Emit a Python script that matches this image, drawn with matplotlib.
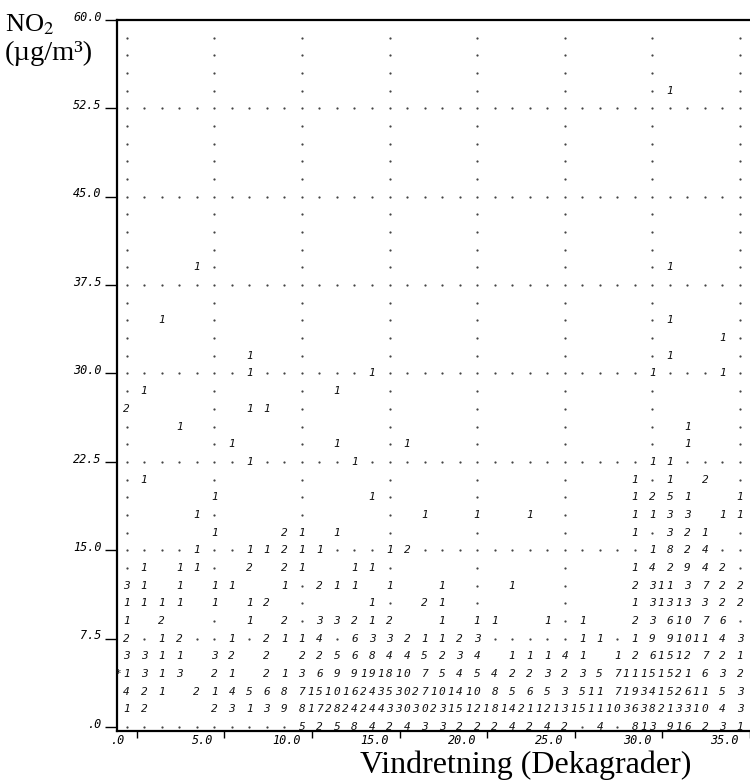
import numpy as np
import matplotlib
matplotlib.use("Agg")
import matplotlib.pyplot as plt

# wind direction classes (dekagrader), NO2 classes in steps of 1.5 ug/m3
directions = list(range(36))
no2_step = 1.5

# counts per NO2 class, one value per wind direction 0..35 (0 = empty cell)
n_00 = [0, 0, 0, 0, 0, 0, 0, 0, 0, 0, 5, 2, 5, 8, 4, 2, 4, 3, 3, 2, 2, 2, 4, 2, 4, 2, 0, 4, 0, 8, 13, 9, 16, 2, 3, 1]
n_01 = [1, 2, 0, 0, 0, 2, 3, 1, 3, 9, 8, 17, 28, 24, 24, 43, 30, 30, 23, 15, 12, 18, 14, 21, 12, 13, 15, 11, 10, 36, 38, 21, 33, 10, 4, 3]
n_02 = [4, 2, 1, 0, 2, 1, 4, 5, 6, 8, 7, 15, 10, 16, 24, 35, 30, 27, 10, 14, 10, 8, 5, 6, 5, 3, 5, 11, 7, 19, 34, 15, 26, 11, 5, 3]
n_03 = [1, 3, 1, 3, 0, 2, 1, 0, 2, 1, 3, 6, 9, 9, 19, 18, 10, 7, 5, 4, 5, 4, 2, 2, 3, 2, 3, 5, 7, 11, 15, 15, 21, 6, 3, 2]
n_04 = [3, 3, 1, 1, 0, 3, 2, 0, 2, 0, 2, 2, 5, 6, 8, 4, 4, 5, 2, 3, 4, 0, 1, 1, 1, 4, 1, 0, 1, 2, 6, 15, 12, 7, 2, 1]
n_05 = [2, 0, 1, 2, 0, 0, 1, 0, 2, 1, 1, 4, 0, 6, 3, 3, 2, 1, 1, 2, 3, 0, 0, 0, 0, 0, 1, 1, 0, 1, 9, 9, 10, 11, 4, 3]
n_06 = [1, 0, 2, 0, 0, 0, 0, 1, 0, 2, 0, 3, 3, 2, 1, 2, 0, 0, 1, 0, 1, 1, 0, 0, 1, 0, 1, 0, 0, 2, 3, 6, 10, 7, 6, 0]
n_07 = [1, 1, 1, 1, 0, 1, 0, 1, 2, 0, 0, 0, 0, 0, 1, 0, 0, 2, 1, 0, 0, 0, 0, 0, 0, 0, 0, 0, 0, 1, 3, 13, 13, 3, 2, 2]
n_08 = [3, 1, 0, 1, 0, 1, 1, 0, 0, 1, 0, 2, 1, 1, 0, 1, 0, 0, 1, 0, 0, 0, 1, 0, 0, 0, 0, 0, 0, 2, 3, 11, 3, 7, 2, 2]
n_09 = [0, 1, 0, 1, 1, 0, 0, 2, 0, 2, 1, 0, 0, 1, 1, 0, 0, 0, 0, 0, 0, 0, 0, 0, 0, 0, 0, 0, 0, 1, 4, 2, 9, 4, 2, 0]
n_10 = [0, 0, 0, 0, 1, 0, 0, 1, 1, 2, 1, 1, 0, 0, 0, 1, 2, 0, 0, 0, 0, 0, 0, 0, 0, 0, 0, 0, 0, 0, 1, 8, 2, 4, 0, 0]
n_11 = [0, 0, 0, 0, 0, 1, 0, 0, 0, 2, 1, 0, 1, 0, 0, 0, 0, 0, 0, 0, 0, 0, 0, 0, 0, 0, 0, 0, 0, 1, 0, 3, 2, 1, 0, 0]
n_12 = [0, 0, 0, 0, 1, 0, 0, 0, 0, 0, 0, 0, 0, 0, 0, 0, 0, 1, 0, 0, 1, 0, 0, 1, 0, 0, 0, 0, 0, 1, 1, 3, 3, 0, 1, 1]
n_13 = [0, 0, 0, 0, 0, 1, 0, 0, 0, 0, 0, 0, 0, 0, 1, 0, 0, 0, 0, 0, 0, 0, 0, 0, 0, 0, 0, 0, 0, 1, 2, 5, 1, 0, 0, 1]
n_14 = [0, 1, 0, 0, 0, 0, 0, 0, 0, 0, 0, 0, 0, 0, 0, 0, 0, 0, 0, 0, 0, 0, 0, 0, 0, 0, 0, 0, 0, 1, 0, 1, 0, 2, 0, 0]
n_15 = [0, 0, 0, 0, 0, 0, 0, 1, 0, 0, 0, 0, 0, 1, 0, 0, 0, 0, 0, 0, 0, 0, 0, 0, 0, 0, 0, 0, 0, 0, 1, 1, 0, 0, 0, 0]
n_16 = [0, 0, 0, 0, 0, 0, 1, 0, 0, 0, 0, 0, 1, 0, 0, 0, 1, 0, 0, 0, 0, 0, 0, 0, 0, 0, 0, 0, 0, 0, 0, 0, 1, 0, 0, 0]
dense_rows = [n_00, n_01, n_02, n_03, n_04, n_05, n_06, n_07, n_08,
              n_09, n_10, n_11, n_12, n_13, n_14, n_15, n_16]

# sparse upper part: NO2 class index, wind direction, count
sparse_row = [17, 17, 18, 18, 18, 19, 19, 20, 20, 20, 20, 21, 21, 22, 23, 23, 26, 26, 36]
sparse_col = [3, 32, 0, 7, 8, 1, 12, 7, 14, 30, 34, 7, 31, 34, 2, 31, 4, 31, 31]
sparse_n = [1, 1, 2, 1, 1, 1, 1, 1, 1, 1, 1, 1, 1, 1, 1, 1, 1, 1, 1]

y_ticks = [0, 7.5, 15, 22.5, 30, 37.5, 45, 52.5, 60]
y_ticklabels = [".0", "7.5", "15.0", "22.5", "30.0", "37.5", "45.0", "52.5", "60.0"]
x_ticks = [0, 5, 10, 15, 20, 25, 30, 35]
x_ticklabels = [".0", "5.0", "10.0", "15.0", "20.0", "25.0", "30.0", "35.0"]

n_rows = 41
counts = np.zeros((n_rows, len(directions)), dtype=int)
for r, row in enumerate(dense_rows):
    counts[r] = row
for r, c, n in zip(sparse_row, sparse_col, sparse_n):
    counts[r, c] = n

plt.rcParams["mathtext.fontset"] = "stix"
MONO = "DejaVu Sans Mono"
SERIF = "Liberation Serif"

fig = plt.figure(figsize=(7.5, 7.81), dpi=100)
ax = fig.add_axes([117 / 750, 50 / 781, 633 / 750, 711 / 781])
ax.set_xlim(-0.55, 35.21)
ax.set_ylim(-0.34, 60)

# dotted reference lines of the printer plot (every 5th row / column)
gx, gy = [], []
for r in range(n_rows - 1):
    for c in directions:
        if (r % 5 == 0 or c % 5 == 0) and counts[r, c] == 0:
            gx.append(c)
            gy.append(r * no2_step)
ax.scatter(gx, gy, s=2.6, color="#444444", marker="o", linewidths=0, zorder=2)

# counts, printed two characters per column, right aligned
for r in range(n_rows):
    for c in directions:
        n = counts[r, c]
        if n == 0:
            continue
        for k, ch in enumerate(reversed(str(n))):
            ax.text(c - 0.5 * k, r * no2_step, ch, ha="center", va="center",
                    fontsize=8, family=MONO, style="italic", color="#111111",
                    zorder=3)

# marker left of the first column
ax.text(-0.5, 3 * no2_step, "*", ha="center", va="center", fontsize=8,
        family=MONO, color="#111111", clip_on=False)

for side in ["top", "left", "bottom"]:
    ax.spines[side].set_linewidth(1.6)
ax.spines["right"].set_visible(False)

ax.set_yticks(y_ticks)
ax.set_yticklabels([])
ax.tick_params(axis="y", length=8.5, width=1.0, direction="out")
for v, lab in zip(y_ticks, y_ticklabels):
    ax.annotate(lab, xy=(0, v), xycoords=("axes fraction", "data"),
                xytext=(-11, 2), textcoords="offset points", ha="right",
                va="center", fontsize=8.5, family=MONO, style="italic",
                annotation_clip=False)

tick_pos = [t + 0.57 for t in x_ticks]
ax.set_xticks(tick_pos)
ax.set_xticklabels([])
ax.tick_params(axis="x", length=5, width=1.0, direction="out")
for p, lab in zip(tick_pos, x_ticklabels):
    ax.annotate(lab, xy=(p, 0), xycoords=("data", "axes fraction"),
                xytext=(-8, -7), textcoords="offset points", ha="right",
                va="center", fontsize=8.5, family=MONO, style="italic",
                annotation_clip=False)

fig.text(5 / 750, 1 - 31 / 781, "NO$_2$", family=SERIF, fontsize=19, va="baseline")
fig.text(5 / 750, 1 - 60 / 781, "(\u00b5g/m\u00b3)", family=SERIF, fontsize=20.5, va="baseline")
fig.text(360 / 750, 1 - 773 / 781, "Vindretning (Dekagrader)", family=SERIF,
         fontsize=23, va="baseline")

fig.savefig("out.png", dpi=100)
